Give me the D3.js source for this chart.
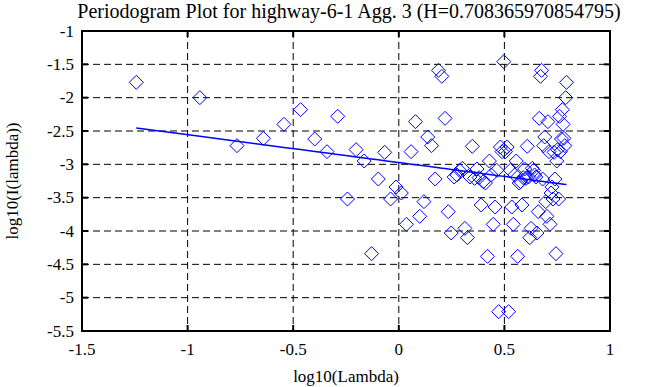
<!DOCTYPE html>
<html><head><meta charset="utf-8">
<script src="https://cdn.jsdelivr.net/npm/d3@7"></script>
<style>
html,body{margin:0;padding:0;background:#fff;}
svg{display:block;}
text{font-family:"Liberation Serif","Times New Roman",serif;fill:#000;}
</style></head>
<body>
<svg id="chart" width="658" height="387"></svg>
<script>
const titleText = "Periodogram Plot for highway-6-1 Agg. 3 (H=0.708365970854795)";
const xLabel = "log10(Lambda)";
const yLabel = "log10(I(lambda))";
const xTicks = [-1.5, -1, -0.5, 0, 0.5, 1];
const yTicks = [-1, -1.5, -2, -2.5, -3, -3.5, -4, -4.5, -5, -5.5];
const xTickLabels = ["-1.5", "-1", "-0.5", "0", "0.5", "1"];
const yTickLabels = ["-1", "-1.5", "-2", "-2.5", "-3", "-3.5", "-4", "-4.5", "-5", "-5.5"];

// log10(lambda) for each periodogram frequency
const logLambda = [
 -1.243,-0.942,-0.766,-0.641,-0.544,-0.465,-0.398,-0.340,-0.289,-0.243,
 -0.202,-0.164,-0.129,-0.097,-0.067,-0.039,-0.013,0.012,0.036,0.058,
 0.079,0.099,0.119,0.137,0.155,0.172,0.188,0.204,0.219,0.234,
 0.248,0.262,0.275,0.288,0.301,0.313,0.325,0.337,0.348,0.359,
 0.370,0.380,0.390,0.400,0.410,0.420,0.429,0.438,0.447,0.456,
 0.464,0.473,0.481,0.489,0.497,0.505,0.513,0.520,0.528,0.535,
 0.542,0.549,0.556,0.563,0.570,0.576,0.583,0.589,0.596,0.602,
 0.608,0.614,0.620,0.626,0.632,0.638,0.643,0.649,0.654,0.660,
 0.665,0.671,0.676,0.681,0.686,0.691,0.696,0.701,0.706,0.711,
 0.716,0.721,0.725,0.730,0.735,0.739,0.744,0.748,0.752,0.757,
 0.761,0.765,0.770,0.774,0.778,0.782,0.786,0.790,0.794
];
// log10(I(lambda)) for each frequency
const logI = [
 -1.77,-2.00,-2.72,-2.61,-2.40,-2.18,-2.62,-2.81,-2.28,-3.52,
 -2.78,-2.95,-4.34,-3.22,-2.82,-3.52,-3.34,-3.43,-3.90,-2.81,
 -2.36,-3.78,-3.56,-2.59,-2.72,-3.22,-1.59,-1.68,-2.31,-3.71,
 -4.03,-3.19,-3.16,-3.09,-3.06,-3.96,-4.10,-3.19,-2.73,-3.21,
 -3.07,-3.20,-3.61,-3.26,-3.28,-4.38,-2.95,-3.16,-3.90,-3.64,
 -3.09,-5.21,-2.74,-2.81,-1.46,-2.81,-2.74,-5.21,-3.09,-3.64,
 -3.90,-3.16,-2.95,-4.38,-3.28,-3.26,-3.61,-3.20,-3.07,-3.21,
 -2.73,-3.19,-4.10,-3.96,-3.06,-3.09,-3.16,-3.19,-4.03,-3.71,
 -2.31,-1.68,-1.59,-3.22,-2.72,-2.59,-3.56,-3.78,-2.36,-2.81,
 -3.90,-3.43,-3.34,-3.52,-2.82,-3.22,-4.34,-2.95,-2.78,-3.52,
 -2.28,-2.81,-2.62,-2.18,-2.40,-2.61,-2.72,-2.00,-1.77
];
// fitted regression line: slope = 1 - 2H
const fitSlope = -0.41673;
const fitIntercept = -2.973;

const svg = d3.select("#chart");
const m = {left: 82, right: 610, top: 31, bottom: 331};
const x = d3.scaleLinear().domain([-1.5, 1]).range([m.left, m.right]);
const y = d3.scaleLinear().domain([-5.5, -1]).range([m.bottom, m.top]);
const blue = "#0000ff";

// grid
const g = svg.append("g");
g.selectAll("line.vg").data(xTicks.slice(1, -1)).join("line")
  .attr("x1", d => x(d)).attr("x2", d => x(d))
  .attr("y1", m.top).attr("y2", m.bottom)
  .attr("stroke", "#000").attr("stroke-width", 1).attr("stroke-dasharray", "7,4");
g.selectAll("line.hg").data(yTicks.slice(1, -1)).join("line")
  .attr("y1", d => y(d)).attr("y2", d => y(d))
  .attr("x1", m.left).attr("x2", m.right)
  .attr("stroke", "#000").attr("stroke-width", 1).attr("stroke-dasharray", "7,4");

// points
const pts = logLambda.map((v, i) => [v, logI[i]]);
const s = 7;
svg.append("g").selectAll("path").data(pts).join("path")
  .attr("d", d => {
    const cx = x(d[0]), cy = y(d[1]);
    return `M${cx},${cy - s}L${cx + s},${cy}L${cx},${cy + s}L${cx - s},${cy}Z`;
  })
  .attr("fill", "none").attr("stroke", blue).attr("stroke-width", 1);

// fit line
const line = d3.line().x(d => x(d)).y(d => y(fitIntercept + fitSlope * d));
svg.append("path").datum(logLambda).attr("d", line)
  .attr("fill", "none").attr("stroke", blue).attr("stroke-width", 1.5);

// frame
svg.append("rect").attr("x", m.left).attr("y", m.top)
  .attr("width", m.right - m.left).attr("height", m.bottom - m.top)
  .attr("fill", "none").attr("stroke", "#000").attr("stroke-width", 2);

// ticks (inward on all sides)
const tl = 6;
const tk = svg.append("g").attr("stroke", "#000").attr("stroke-width", 2);
xTicks.forEach(t => {
  tk.append("line").attr("x1", x(t)).attr("x2", x(t)).attr("y1", m.bottom).attr("y2", m.bottom - tl);
  tk.append("line").attr("x1", x(t)).attr("x2", x(t)).attr("y1", m.top).attr("y2", m.top + tl);
});
yTicks.forEach(t => {
  tk.append("line").attr("y1", y(t)).attr("y2", y(t)).attr("x1", m.left).attr("x2", m.left + tl);
  tk.append("line").attr("y1", y(t)).attr("y2", y(t)).attr("x1", m.right).attr("x2", m.right - tl);
});

// tick labels
const fs = 17;
svg.append("g").selectAll("text").data(xTicks).join("text")
  .attr("x", d => x(d)).attr("y", m.bottom + 24)
  .attr("text-anchor", "middle").attr("font-size", fs)
  .text((d, i) => xTickLabels[i]);
svg.append("g").selectAll("text").data(yTicks).join("text")
  .attr("x", m.left - 8).attr("y", d => y(d)).attr("dy", "0.33em")
  .attr("text-anchor", "end").attr("font-size", fs)
  .text((d, i) => yTickLabels[i]);

// titles
svg.append("text").attr("x", (m.left + m.right) / 2 + 3).attr("y", 18)
  .attr("text-anchor", "middle").attr("font-size", 20).text(titleText);
svg.append("text").attr("x", (m.left + m.right) / 2).attr("y", 382)
  .attr("text-anchor", "middle").attr("font-size", fs).text(xLabel);
svg.append("text").attr("transform", `translate(18,${(m.top + m.bottom) / 2}) rotate(-90)`)
  .attr("text-anchor", "middle").attr("font-size", fs).text(yLabel);
</script>
</body></html>
